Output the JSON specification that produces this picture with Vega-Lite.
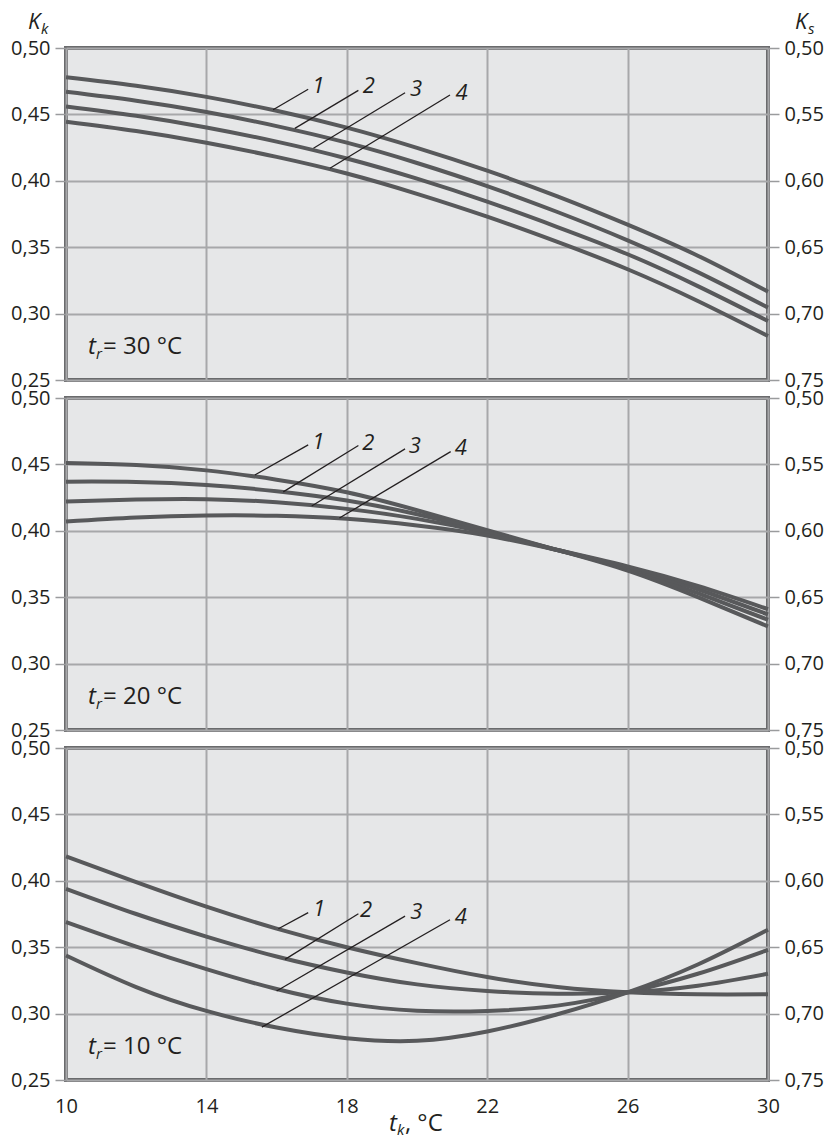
{
"$schema": "https://vega.github.io/schema/vega-lite/v6.json",
"background": "white",
"padding": {"left": 8, "top": 9, "right": 5, "bottom": 2},
"bounds": "flush",
"spacing": 18,
"resolve": {"scale": {"x": "independent", "y": "independent"}, "axis": {"x": "independent", "y": "independent"}},
"config": {
  "font": "Open Sans",
  "view": {"fill": "#e6e7e8", "stroke": "#6a6b6d", "strokeWidth": 4},
  "text": {"font": "Open Sans", "color": "#231f20"},
  "axis": {"labelFont": "Open Sans", "labelFontSize": 20, "labelColor": "#231f20", "gridColor": "#a7a8aa", "gridWidth": 2, "gridOpacity": 1, "tickColor": "#9a9b9d", "tickWidth": 1.5, "tickSize": 11, "labelPadding": 5, "domain": false, "labelOverlap": false, "labelFlush": false}
},
"datasets": {
  "curves": [
    {"tr":30,"c":"1","tk":10,"Kk":0.478},{"tr":30,"c":"1","tk":12,"Kk":0.4716},{"tr":30,"c":"1","tk":14,"Kk":0.4632},{"tr":30,"c":"1","tk":16,"Kk":0.4527},{"tr":30,"c":"1","tk":18,"Kk":0.44},{"tr":30,"c":"1","tk":20,"Kk":0.4248},{"tr":30,"c":"1","tk":22,"Kk":0.4076},{"tr":30,"c":"1","tk":24,"Kk":0.3883},{"tr":30,"c":"1","tk":26,"Kk":0.367},{"tr":30,"c":"1","tk":28,"Kk":0.3436},{"tr":30,"c":"1","tk":30,"Kk":0.3165},
    {"tr":30,"c":"2","tk":10,"Kk":0.467},{"tr":30,"c":"2","tk":12,"Kk":0.4603},{"tr":30,"c":"2","tk":14,"Kk":0.4518},{"tr":30,"c":"2","tk":16,"Kk":0.4412},{"tr":30,"c":"2","tk":18,"Kk":0.4287},{"tr":30,"c":"2","tk":20,"Kk":0.4134},{"tr":30,"c":"2","tk":22,"Kk":0.396},{"tr":30,"c":"2","tk":24,"Kk":0.3765},{"tr":30,"c":"2","tk":26,"Kk":0.3552},{"tr":30,"c":"2","tk":28,"Kk":0.3312},{"tr":30,"c":"2","tk":30,"Kk":0.3045},
    {"tr":30,"c":"3","tk":10,"Kk":0.456},{"tr":30,"c":"3","tk":12,"Kk":0.449},{"tr":30,"c":"3","tk":14,"Kk":0.4402},{"tr":30,"c":"3","tk":16,"Kk":0.4295},{"tr":30,"c":"3","tk":18,"Kk":0.4168},{"tr":30,"c":"3","tk":20,"Kk":0.4016},{"tr":30,"c":"3","tk":22,"Kk":0.3843},{"tr":30,"c":"3","tk":24,"Kk":0.3652},{"tr":30,"c":"3","tk":26,"Kk":0.3447},{"tr":30,"c":"3","tk":28,"Kk":0.3207},{"tr":30,"c":"3","tk":30,"Kk":0.2944},
    {"tr":30,"c":"4","tk":10,"Kk":0.4445},{"tr":30,"c":"4","tk":12,"Kk":0.4375},{"tr":30,"c":"4","tk":14,"Kk":0.4287},{"tr":30,"c":"4","tk":16,"Kk":0.418},{"tr":30,"c":"4","tk":18,"Kk":0.4055},{"tr":30,"c":"4","tk":20,"Kk":0.3902},{"tr":30,"c":"4","tk":22,"Kk":0.373},{"tr":30,"c":"4","tk":24,"Kk":0.354},{"tr":30,"c":"4","tk":26,"Kk":0.3334},{"tr":30,"c":"4","tk":28,"Kk":0.3095},{"tr":30,"c":"4","tk":30,"Kk":0.2831},
    {"tr":20,"c":"1","tk":10,"Kk":0.451},{"tr":20,"c":"1","tk":12,"Kk":0.4495},{"tr":20,"c":"1","tk":14,"Kk":0.4455},{"tr":20,"c":"1","tk":16,"Kk":0.4385},{"tr":20,"c":"1","tk":18,"Kk":0.429},{"tr":20,"c":"1","tk":20,"Kk":0.4155},{"tr":20,"c":"1","tk":22,"Kk":0.4005},{"tr":20,"c":"1","tk":24,"Kk":0.3855},{"tr":20,"c":"1","tk":26,"Kk":0.37},{"tr":20,"c":"1","tk":28,"Kk":0.35},{"tr":20,"c":"1","tk":30,"Kk":0.328},
    {"tr":20,"c":"2","tk":10,"Kk":0.437},{"tr":20,"c":"2","tk":12,"Kk":0.4368},{"tr":20,"c":"2","tk":14,"Kk":0.4345},{"tr":20,"c":"2","tk":16,"Kk":0.4298},{"tr":20,"c":"2","tk":18,"Kk":0.4228},{"tr":20,"c":"2","tk":20,"Kk":0.4125},{"tr":20,"c":"2","tk":22,"Kk":0.3995},{"tr":20,"c":"2","tk":24,"Kk":0.3855},{"tr":20,"c":"2","tk":26,"Kk":0.3712},{"tr":20,"c":"2","tk":28,"Kk":0.353},{"tr":20,"c":"2","tk":30,"Kk":0.333},
    {"tr":20,"c":"3","tk":10,"Kk":0.422},{"tr":20,"c":"3","tk":12,"Kk":0.4235},{"tr":20,"c":"3","tk":14,"Kk":0.4238},{"tr":20,"c":"3","tk":16,"Kk":0.4215},{"tr":20,"c":"3","tk":18,"Kk":0.4165},{"tr":20,"c":"3","tk":20,"Kk":0.409},{"tr":20,"c":"3","tk":22,"Kk":0.3985},{"tr":20,"c":"3","tk":24,"Kk":0.3855},{"tr":20,"c":"3","tk":26,"Kk":0.3722},{"tr":20,"c":"3","tk":28,"Kk":0.356},{"tr":20,"c":"3","tk":30,"Kk":0.337},
    {"tr":20,"c":"4","tk":10,"Kk":0.407},{"tr":20,"c":"4","tk":12,"Kk":0.41},{"tr":20,"c":"4","tk":14,"Kk":0.4115},{"tr":20,"c":"4","tk":16,"Kk":0.4113},{"tr":20,"c":"4","tk":18,"Kk":0.409},{"tr":20,"c":"4","tk":20,"Kk":0.404},{"tr":20,"c":"4","tk":22,"Kk":0.3965},{"tr":20,"c":"4","tk":24,"Kk":0.3855},{"tr":20,"c":"4","tk":26,"Kk":0.3732},{"tr":20,"c":"4","tk":28,"Kk":0.3585},{"tr":20,"c":"4","tk":30,"Kk":0.341},
    {"tr":10,"c":"1","tk":10,"Kk":0.4184},{"tr":10,"c":"1","tk":12,"Kk":0.399},{"tr":10,"c":"1","tk":14,"Kk":0.3805},{"tr":10,"c":"1","tk":16,"Kk":0.364},{"tr":10,"c":"1","tk":18,"Kk":0.35},{"tr":10,"c":"1","tk":20,"Kk":0.338},{"tr":10,"c":"1","tk":22,"Kk":0.3275},{"tr":10,"c":"1","tk":24,"Kk":0.32},{"tr":10,"c":"1","tk":26,"Kk":0.316},{"tr":10,"c":"1","tk":28,"Kk":0.3145},{"tr":10,"c":"1","tk":30,"Kk":0.3145},
    {"tr":10,"c":"2","tk":10,"Kk":0.394},{"tr":10,"c":"2","tk":12,"Kk":0.375},{"tr":10,"c":"2","tk":14,"Kk":0.358},{"tr":10,"c":"2","tk":16,"Kk":0.343},{"tr":10,"c":"2","tk":18,"Kk":0.331},{"tr":10,"c":"2","tk":20,"Kk":0.322},{"tr":10,"c":"2","tk":22,"Kk":0.317},{"tr":10,"c":"2","tk":24,"Kk":0.315},{"tr":10,"c":"2","tk":26,"Kk":0.316},{"tr":10,"c":"2","tk":28,"Kk":0.321},{"tr":10,"c":"2","tk":30,"Kk":0.33},
    {"tr":10,"c":"3","tk":10,"Kk":0.369},{"tr":10,"c":"3","tk":12,"Kk":0.3505},{"tr":10,"c":"3","tk":14,"Kk":0.3335},{"tr":10,"c":"3","tk":16,"Kk":0.3185},{"tr":10,"c":"3","tk":18,"Kk":0.3075},{"tr":10,"c":"3","tk":20,"Kk":0.3022},{"tr":10,"c":"3","tk":22,"Kk":0.302},{"tr":10,"c":"3","tk":24,"Kk":0.306},{"tr":10,"c":"3","tk":26,"Kk":0.316},{"tr":10,"c":"3","tk":28,"Kk":0.33},{"tr":10,"c":"3","tk":30,"Kk":0.348},
    {"tr":10,"c":"4","tk":10,"Kk":0.3438},{"tr":10,"c":"4","tk":12,"Kk":0.32},{"tr":10,"c":"4","tk":14,"Kk":0.302},{"tr":10,"c":"4","tk":16,"Kk":0.2895},{"tr":10,"c":"4","tk":18,"Kk":0.2815},{"tr":10,"c":"4","tk":20,"Kk":0.2795},{"tr":10,"c":"4","tk":22,"Kk":0.2865},{"tr":10,"c":"4","tk":24,"Kk":0.2995},{"tr":10,"c":"4","tk":26,"Kk":0.316},{"tr":10,"c":"4","tk":28,"Kk":0.337},{"tr":10,"c":"4","tk":30,"Kk":0.3632}
  ],
  "leaders": [
    {"tr":30,"c":"1","x":15.9,"y":0.4535,"x2":16.9,"y2":0.4689},
    {"tr":30,"c":"2","x":16.52,"y":0.4395,"x2":18.33,"y2":0.4681},
    {"tr":30,"c":"3","x":17.05,"y":0.4245,"x2":19.66,"y2":0.4663},
    {"tr":30,"c":"4","x":17.52,"y":0.4095,"x2":20.94,"y2":0.4646},
    {"tr":20,"c":"1","x":15.38,"y":0.442,"x2":16.9,"y2":0.4647},
    {"tr":20,"c":"2","x":16.19,"y":0.4293,"x2":18.33,"y2":0.4642},
    {"tr":20,"c":"3","x":17.0,"y":0.4187,"x2":19.66,"y2":0.4617},
    {"tr":20,"c":"4","x":17.79,"y":0.4096,"x2":20.96,"y2":0.4596},
    {"tr":10,"c":"1","x":16.05,"y":0.3639,"x2":16.9,"y2":0.376},
    {"tr":10,"c":"2","x":16.24,"y":0.3408,"x2":18.33,"y2":0.3752},
    {"tr":10,"c":"3","x":16.0,"y":0.317,"x2":19.66,"y2":0.3734},
    {"tr":10,"c":"4","x":15.58,"y":0.2898,"x2":20.94,"y2":0.3707}
  ],
  "labels": [
    {"tr":30,"c":"1","x":17.19,"y":0.4714},{"tr":30,"c":"2","x":18.63,"y":0.4714},{"tr":30,"c":"3","x":19.97,"y":0.4691},{"tr":30,"c":"4","x":21.27,"y":0.4661},
    {"tr":20,"c":"1","x":17.19,"y":0.4672},{"tr":20,"c":"2","x":18.61,"y":0.4659},{"tr":20,"c":"3","x":19.94,"y":0.4642},{"tr":20,"c":"4","x":21.25,"y":0.4622},
    {"tr":10,"c":"1","x":17.21,"y":0.379},{"tr":10,"c":"2","x":18.55,"y":0.3777},{"tr":10,"c":"3","x":19.98,"y":0.3764},{"tr":10,"c":"4","x":21.25,"y":0.3727}
  ],
  "notes": [
    {"tr":30,"lab":"= 30 °C"},{"tr":20,"lab":"= 20 °C"},{"tr":10,"lab":"= 10 °C"}
  ]
},
"vconcat": [
  {
    "width": 702, "height": 332,
    "resolve": {"axis": {"y": "independent", "x": "independent"}},
    "layer": [
      {"data": {"name": "curves"}, "transform": [{"filter": "datum.tr == 30"}],
       "mark": {"type": "line", "color": "#58595b", "strokeWidth": 4, "interpolate": "natural"},
       "encoding": {
         "x": {"field": "tk", "type": "quantitative", "scale": {"domain": [10, 30], "nice": false, "zero": false}, "axis": {"orient": "bottom", "values": [10,14,18,22,26,30], "labels": false, "tickSize": 0, "grid": true, "title": null}},
         "y": {"field": "Kk", "type": "quantitative", "scale": {"domain": [0.25, 0.5], "nice": false, "zero": false}, "axis": {"orient": "left", "values": [0.25,0.3,0.35,0.4,0.45,0.5], "labelExpr": "replace(format(datum.value, '.2f'), '.', ',')", "grid": true, "title": null}},
         "detail": {"field": "c"}}},
      {"data": {"name": "leaders"}, "transform": [{"filter": "datum.tr == 30"}],
       "mark": {"type": "rule", "color": "#231f20", "strokeWidth": 1.3},
       "encoding": {
         "x": {"field": "x", "type": "quantitative", "axis": null}, "x2": {"field": "x2"},
         "y": {"field": "y", "type": "quantitative", "axis": {"orient": "right", "values": [0.25,0.3,0.35,0.4,0.45,0.5], "labelExpr": "replace(format(1 - datum.value, '.2f'), '.', ',')", "grid": false, "title": null}}, "y2": {"field": "y2"}}},
      {"data": {"name": "labels"}, "transform": [{"filter": "datum.tr == 30"}],
       "mark": {"type": "text", "fontSize": 22, "fontStyle": "italic", "align": "center", "baseline": "middle"},
       "encoding": {"x": {"field": "x", "type": "quantitative", "axis": null}, "y": {"field": "y", "type": "quantitative", "axis": null}, "text": {"field": "c"}}},
      {"data": {"name": "notes"}, "transform": [{"filter": "datum.tr == 30"}],
       "mark": {"type": "text", "text": "t", "fontSize": 24, "fontStyle": "italic", "align": "left", "baseline": "alphabetic"},
       "encoding": {"x": {"datum": 10.63, "type": "quantitative", "axis": null}, "y": {"datum": 0.2696, "type": "quantitative", "axis": null}}},
      {"data": {"name": "notes"}, "transform": [{"filter": "datum.tr == 30"}],
       "mark": {"type": "text", "text": "r", "fontSize": 15, "fontStyle": "italic", "align": "left", "baseline": "alphabetic", "dx": 8, "dy": 5},
       "encoding": {"x": {"datum": 10.63, "type": "quantitative", "axis": null}, "y": {"datum": 0.2696, "type": "quantitative", "axis": null}}},
      {"data": {"name": "notes"}, "transform": [{"filter": "datum.tr == 30"}],
       "mark": {"type": "text", "fontSize": 24, "align": "left", "baseline": "alphabetic", "dx": 15},
       "encoding": {"x": {"datum": 10.63, "type": "quantitative", "axis": null}, "y": {"datum": 0.2696, "type": "quantitative", "axis": null}, "text": {"field": "lab"}}},
      {"data": {"name": "notes"}, "transform": [{"filter": "datum.tr == 30"}],
       "mark": {"type": "text", "text": "K", "fontSize": 22, "fontStyle": "italic", "align": "left", "baseline": "alphabetic", "dx": -38, "dy": -19},
       "encoding": {"x": {"datum": 10, "type": "quantitative", "axis": null}, "y": {"datum": 0.5, "type": "quantitative", "axis": null}}},
      {"data": {"name": "notes"}, "transform": [{"filter": "datum.tr == 30"}],
       "mark": {"type": "text", "text": "k", "fontSize": 15, "fontStyle": "italic", "align": "left", "baseline": "alphabetic", "dx": -25, "dy": -14},
       "encoding": {"x": {"datum": 10, "type": "quantitative", "axis": null}, "y": {"datum": 0.5, "type": "quantitative", "axis": null}}},
      {"data": {"name": "notes"}, "transform": [{"filter": "datum.tr == 30"}],
       "mark": {"type": "text", "text": "K", "fontSize": 22, "fontStyle": "italic", "align": "left", "baseline": "alphabetic", "dx": 27, "dy": -19},
       "encoding": {"x": {"datum": 30, "type": "quantitative", "axis": null}, "y": {"datum": 0.5, "type": "quantitative", "axis": null}}},
      {"data": {"name": "notes"}, "transform": [{"filter": "datum.tr == 30"}],
       "mark": {"type": "text", "text": "s", "fontSize": 15, "fontStyle": "italic", "align": "left", "baseline": "alphabetic", "dx": 40, "dy": -14},
       "encoding": {"x": {"datum": 30, "type": "quantitative", "axis": null}, "y": {"datum": 0.5, "type": "quantitative", "axis": null}}}
    ]
  },
  {
    "width": 702, "height": 332,
    "resolve": {"axis": {"y": "independent", "x": "independent"}},
    "layer": [
      {"data": {"name": "curves"}, "transform": [{"filter": "datum.tr == 20"}],
       "mark": {"type": "line", "color": "#58595b", "strokeWidth": 4, "interpolate": "natural"},
       "encoding": {
         "x": {"field": "tk", "type": "quantitative", "scale": {"domain": [10, 30], "nice": false, "zero": false}, "axis": {"orient": "bottom", "values": [10,14,18,22,26,30], "labels": false, "tickSize": 0, "grid": true, "title": null}},
         "y": {"field": "Kk", "type": "quantitative", "scale": {"domain": [0.25, 0.5], "nice": false, "zero": false}, "axis": {"orient": "left", "values": [0.25,0.3,0.35,0.4,0.45,0.5], "labelExpr": "replace(format(datum.value, '.2f'), '.', ',')", "grid": true, "title": null}},
         "detail": {"field": "c"}}},
      {"data": {"name": "leaders"}, "transform": [{"filter": "datum.tr == 20"}],
       "mark": {"type": "rule", "color": "#231f20", "strokeWidth": 1.3},
       "encoding": {
         "x": {"field": "x", "type": "quantitative", "axis": null}, "x2": {"field": "x2"},
         "y": {"field": "y", "type": "quantitative", "axis": {"orient": "right", "values": [0.25,0.3,0.35,0.4,0.45,0.5], "labelExpr": "replace(format(1 - datum.value, '.2f'), '.', ',')", "grid": false, "title": null}}, "y2": {"field": "y2"}}},
      {"data": {"name": "labels"}, "transform": [{"filter": "datum.tr == 20"}],
       "mark": {"type": "text", "fontSize": 22, "fontStyle": "italic", "align": "center", "baseline": "middle"},
       "encoding": {"x": {"field": "x", "type": "quantitative", "axis": null}, "y": {"field": "y", "type": "quantitative", "axis": null}, "text": {"field": "c"}}},
      {"data": {"name": "notes"}, "transform": [{"filter": "datum.tr == 20"}],
       "mark": {"type": "text", "text": "t", "fontSize": 24, "fontStyle": "italic", "align": "left", "baseline": "alphabetic"},
       "encoding": {"x": {"datum": 10.63, "type": "quantitative", "axis": null}, "y": {"datum": 0.2696, "type": "quantitative", "axis": null}}},
      {"data": {"name": "notes"}, "transform": [{"filter": "datum.tr == 20"}],
       "mark": {"type": "text", "text": "r", "fontSize": 15, "fontStyle": "italic", "align": "left", "baseline": "alphabetic", "dx": 8, "dy": 5},
       "encoding": {"x": {"datum": 10.63, "type": "quantitative", "axis": null}, "y": {"datum": 0.2696, "type": "quantitative", "axis": null}}},
      {"data": {"name": "notes"}, "transform": [{"filter": "datum.tr == 20"}],
       "mark": {"type": "text", "fontSize": 24, "align": "left", "baseline": "alphabetic", "dx": 15},
       "encoding": {"x": {"datum": 10.63, "type": "quantitative", "axis": null}, "y": {"datum": 0.2696, "type": "quantitative", "axis": null}, "text": {"field": "lab"}}}
    ]
  },
  {
    "width": 702, "height": 332,
    "resolve": {"axis": {"y": "independent", "x": "independent"}},
    "layer": [
      {"data": {"name": "curves"}, "transform": [{"filter": "datum.tr == 10"}],
       "mark": {"type": "line", "color": "#58595b", "strokeWidth": 4, "interpolate": "natural"},
       "encoding": {
         "x": {"field": "tk", "type": "quantitative", "scale": {"domain": [10, 30], "nice": false, "zero": false}, "axis": {"orient": "bottom", "values": [10,14,18,22,26,30], "labels": false, "tickSize": 0, "grid": true, "title": null}},
         "y": {"field": "Kk", "type": "quantitative", "scale": {"domain": [0.25, 0.5], "nice": false, "zero": false}, "axis": {"orient": "left", "values": [0.25,0.3,0.35,0.4,0.45,0.5], "labelExpr": "replace(format(datum.value, '.2f'), '.', ',')", "grid": true, "title": null}},
         "detail": {"field": "c"}}},
      {"data": {"name": "leaders"}, "transform": [{"filter": "datum.tr == 10"}],
       "mark": {"type": "rule", "color": "#231f20", "strokeWidth": 1.3},
       "encoding": {
         "x": {"field": "x", "type": "quantitative", "axis": {"orient": "bottom", "values": [10,14,18,22,26,30], "labels": true, "ticks": false, "grid": false, "labelPadding": 16, "zindex": 2, "title": null}}, "x2": {"field": "x2"},
         "y": {"field": "y", "type": "quantitative", "axis": {"orient": "right", "values": [0.25,0.3,0.35,0.4,0.45,0.5], "labelExpr": "replace(format(1 - datum.value, '.2f'), '.', ',')", "grid": false, "title": null}}, "y2": {"field": "y2"}}},
      {"data": {"name": "labels"}, "transform": [{"filter": "datum.tr == 10"}],
       "mark": {"type": "text", "fontSize": 22, "fontStyle": "italic", "align": "center", "baseline": "middle"},
       "encoding": {"x": {"field": "x", "type": "quantitative", "axis": null}, "y": {"field": "y", "type": "quantitative", "axis": null}, "text": {"field": "c"}}},
      {"data": {"name": "notes"}, "transform": [{"filter": "datum.tr == 10"}],
       "mark": {"type": "text", "text": "t", "fontSize": 24, "fontStyle": "italic", "align": "left", "baseline": "alphabetic"},
       "encoding": {"x": {"datum": 10.63, "type": "quantitative", "axis": null}, "y": {"datum": 0.2696, "type": "quantitative", "axis": null}}},
      {"data": {"name": "notes"}, "transform": [{"filter": "datum.tr == 10"}],
       "mark": {"type": "text", "text": "r", "fontSize": 15, "fontStyle": "italic", "align": "left", "baseline": "alphabetic", "dx": 8, "dy": 5},
       "encoding": {"x": {"datum": 10.63, "type": "quantitative", "axis": null}, "y": {"datum": 0.2696, "type": "quantitative", "axis": null}}},
      {"data": {"name": "notes"}, "transform": [{"filter": "datum.tr == 10"}],
       "mark": {"type": "text", "fontSize": 24, "align": "left", "baseline": "alphabetic", "dx": 15},
       "encoding": {"x": {"datum": 10.63, "type": "quantitative", "axis": null}, "y": {"datum": 0.2696, "type": "quantitative", "axis": null}, "text": {"field": "lab"}}},
      {"data": {"name": "notes"}, "transform": [{"filter": "datum.tr == 10"}],
       "mark": {"type": "text", "text": "t", "fontSize": 24, "fontStyle": "italic", "align": "left", "baseline": "alphabetic", "dy": 51},
       "encoding": {"x": {"datum": 19.2, "type": "quantitative", "axis": null}, "y": {"datum": 0.25, "type": "quantitative", "axis": null}}},
      {"data": {"name": "notes"}, "transform": [{"filter": "datum.tr == 10"}],
       "mark": {"type": "text", "text": "k", "fontSize": 15, "fontStyle": "italic", "align": "left", "baseline": "alphabetic", "dx": 8, "dy": 55},
       "encoding": {"x": {"datum": 19.2, "type": "quantitative", "axis": null}, "y": {"datum": 0.25, "type": "quantitative", "axis": null}}},
      {"data": {"name": "notes"}, "transform": [{"filter": "datum.tr == 10"}],
       "mark": {"type": "text", "text": ", °C", "fontSize": 24, "align": "left", "baseline": "alphabetic", "dx": 16, "dy": 51},
       "encoding": {"x": {"datum": 19.2, "type": "quantitative", "axis": null}, "y": {"datum": 0.25, "type": "quantitative", "axis": null}}}
    ]
  }
]
}
